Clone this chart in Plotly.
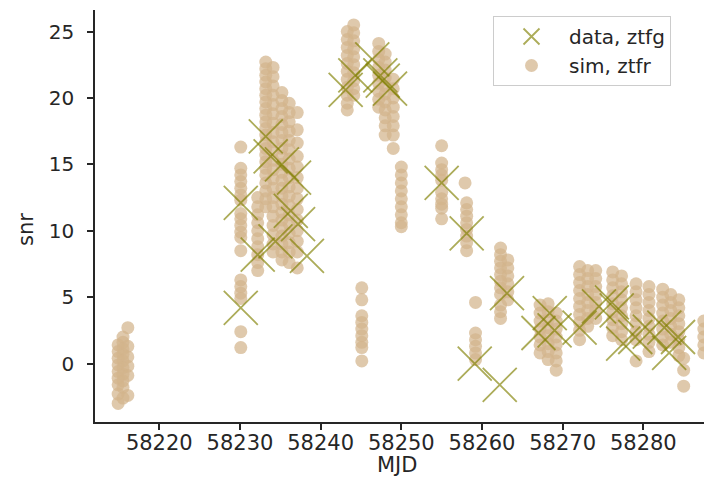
import plotly.graph_objects as go

# ---- data: observed points (green X) ----
data_mjd = [58230.1, 58230.1, 58232.2, 58233.2, 58233.8, 58234.4, 58235.2, 58236.3, 58236.7,
            58237.2, 58238.3,
            58243.1, 58244.3, 58246.4, 58247.4, 58247.7, 58248.6,
            58255.0, 58258.1, 58259.1, 58262.2, 58263.1,
            58267.0, 58268.4, 58269.0, 58272.1, 58274.5, 58276.1, 58276.7, 58277.5,
            58279.0, 58280.8, 58282.6, 58283.2, 58284.3]
data_snr = [12.1, 4.2, 8.2, 17.1, 15.6, 9.2, 15.0, 11.5, 14.0,
            10.5, 8.1,
            20.6, 21.7, 22.9, 21.7, 21.3, 20.7,
            13.6, 9.8, 0.0, -1.6, 5.3,
            2.3, 3.8, 2.5, 2.7, 4.3, 4.6, 4.0, 1.5,
            2.0, 2.4, 2.7, 0.8, 2.0]

# ---- simulated points (tan circles), one list of snr per epoch ----
sim_mjd = [58214.9, 58215.5, 58216.1,
           58230.1, 58232.2, 58233.2, 58234.1, 58235.2, 58236.1, 58237.1,
           58243.3, 58244.1, 58245.1, 58247.2, 58248.0, 58249.0, 58250.0,
           58255.0, 58257.9, 58258.1, 58259.2, 58262.3, 58263.2,
           58267.2, 58268.2, 58269.2, 58272.1, 58273.1, 58274.1,
           58276.2, 58277.3, 58279.1, 58280.7,
           58282.4, 58283.4, 58284.4, 58285.0, 58287.5]
sim_snr = [
    [1.4, 0.9, 0.4, -0.1, -0.6, -1.1, -1.6, -2.3, -3.0],
    [2.0, 1.6, 1.1, 0.7, 0.2, -0.3, -0.8, -1.3, -1.8, -2.6],
    [2.7, 1.3, 0.5, -0.2, -0.9, -2.4],
    [16.3, 14.7, 14.2, 13.7, 13.2, 12.7, 12.3, 11.3, 10.9, 10.4, 9.9, 9.5, 8.5, 6.3, 5.8, 5.3, 4.9, 2.4, 1.2],
    [12.5, 11.8, 11.2, 10.6, 10.0, 9.4, 8.8, 8.2, 7.6, 7.0],
    [22.7, 22.2, 21.7, 21.2, 20.7, 20.2, 19.7, 19.2, 18.7, 18.2, 17.7, 17.2, 16.7, 16.2, 15.7, 15.2,
     14.7, 14.2, 13.6, 13.0, 12.4, 11.8],
    [22.3, 21.6, 20.9, 20.2, 19.5, 18.8, 18.1, 17.4, 16.7, 16.0, 15.3, 14.6, 13.9, 13.2, 12.5, 11.8,
     11.1, 10.4, 9.7, 9.0, 8.4],
    [20.4, 19.8, 19.2, 18.6, 18.0, 17.4, 16.8, 16.2, 15.6, 15.0, 14.4, 13.8, 13.2, 12.6, 12.0, 11.4,
     10.8, 10.2, 9.6, 9.0, 8.4, 7.8],
    [19.6, 18.9, 18.2, 17.5, 16.8, 16.1, 15.4, 14.7, 14.0, 13.3, 12.6, 11.9, 11.2, 10.5, 9.8, 9.1, 8.4, 7.6],
    [18.9, 17.6, 16.6, 15.6, 14.8, 14.0, 13.2, 12.4, 11.6, 10.8, 10.0, 9.2, 8.4, 7.2],
    [25.0, 24.4, 23.8, 23.2, 22.6, 22.0, 21.4, 20.8, 20.2, 19.6, 19.1],
    [25.5, 24.9, 24.3, 23.7, 23.1, 22.5, 21.9, 21.3, 20.7, 20.2],
    [5.7, 4.8, 3.6, 3.1, 2.6, 2.1, 1.6, 1.2, 0.2],
    [24.1, 23.5, 22.9, 22.3, 21.7, 21.1, 20.5, 19.9, 19.3],
    [23.3, 22.7, 22.1, 21.5, 20.9, 20.3, 19.7, 19.1, 18.5, 17.9, 17.2],
    [21.4, 20.7, 20.0, 19.3, 18.6, 17.9, 17.2, 16.2],
    [14.8, 14.2, 13.6, 13.0, 12.4, 11.8, 11.2, 10.6, 10.3],
    [16.4, 15.1, 14.6, 14.2, 13.8, 12.9, 12.4, 12.0, 11.7, 10.9],
    [13.6],
    [12.1, 11.6, 11.1, 10.6, 10.1, 9.6, 9.1, 8.5],
    [4.6, 2.3, 1.8, 1.3, 0.8, 0.3],
    [8.7, 8.2, 7.7, 7.2, 6.7, 6.2, 5.7, 5.2, 4.4, 3.9, 3.4],
    [7.8, 7.2, 6.6, 6.0, 5.4, 4.8],
    [4.4, 3.8, 3.2, 2.6, 2.0, 1.4, 0.8],
    [4.5, 3.9, 3.3, 2.7, 2.1, 1.5, 0.9, 0.3],
    [3.8, 3.2, 2.6, 2.0, 1.4, 0.8, 0.2, -0.5],
    [7.3, 6.7, 6.1, 5.5, 4.9, 4.3, 3.7, 3.1, 2.5, 1.8],
    [7.0, 6.4, 5.8, 5.2, 4.6, 4.0, 3.4, 2.8],
    [7.0, 6.4, 5.8, 5.2, 4.6, 4.0, 3.4],
    [6.9, 6.3, 5.7, 5.1, 4.5, 3.9, 3.3, 2.7, 2.1],
    [6.6, 6.0, 5.4, 4.8, 4.2, 3.6, 3.0, 2.4, 1.8],
    [6.0, 5.4, 4.8, 4.2, 3.6, 3.0, 2.4, 1.8, 0.2],
    [5.8, 5.2, 4.6, 4.0, 3.4, 2.8, 2.2, 1.6, 0.9],
    [5.6, 5.0, 4.4, 3.8, 3.2, 2.6, 2.0, 1.4],
    [5.2, 4.6, 4.0, 3.4, 2.8, 2.2, 1.6],
    [4.8, 4.2, 3.6, 3.0, 2.4, 1.8, 1.2, 0.6],
    [0.4, -0.5, -1.7],
    [3.2, 2.6, 2.0, 1.4, 0.8],
]

x_ticks = [58220, 58230, 58240, 58250, 58260, 58270, 58280]
y_ticks = [0, 5, 10, 15, 20, 25]

sim_x = [m for m, col in zip(sim_mjd, sim_snr) for _ in col]
sim_y = [v for col in sim_snr for v in col]

FONT = "DejaVu Sans"
AXC = "#262626"

W, H = 704, 481
L, T, B = 95, 10, 59
PW, PH = W - L, H - T - B

fig = go.Figure()
fig.add_trace(go.Scatter(
    x=sim_x, y=sim_y, mode="markers", name="sim, ztfr", legendrank=2,
    marker=dict(symbol="circle", size=13, color="tan", opacity=0.72,
                line=dict(width=0)),
))
fig.add_trace(go.Scatter(
    x=data_mjd, y=data_snr, mode="markers", name="data, ztfg", legendrank=1,
    marker=dict(symbol="x-thin", size=34, color="olive", opacity=0.65,
                line=dict(width=1.8, color="olive")),
))

fig.update_layout(
    width=W, height=H,
    margin=dict(l=L, r=0, t=T, b=B, autoexpand=False),
    paper_bgcolor="white", plot_bgcolor="white",
    font=dict(family=FONT, size=20, color=AXC),
    showlegend=True,
    legend=dict(x=(493 - L) / PW, y=1 - (16 - T) / PH, xanchor="left", yanchor="top",
                bgcolor="rgba(255,255,255,0.8)", bordercolor="#cccccc", borderwidth=1,
                font=dict(family=FONT, size=20, color=AXC), itemwidth=65,
                tracegroupgap=0),
    xaxis=dict(range=[58212.03, 58287.52], tickvals=x_ticks,
               ticktext=[str(t) for t in x_ticks],
               showgrid=False, zeroline=False, showline=True, linecolor=AXC, linewidth=1.5,
               ticks="outside", ticklen=6, tickwidth=1.5, tickcolor=AXC,
               ticklabelstandoff=-5,
               tickfont=dict(family=FONT, size=21, color=AXC)),
    yaxis=dict(range=[-4.40, 26.62], tickvals=y_ticks,
               ticktext=[str(t) for t in y_ticks],
               showgrid=False, zeroline=False, showline=True, linecolor=AXC, linewidth=1.5,
               ticks="outside", ticklen=6, tickwidth=1.5, tickcolor=AXC,
               ticklabelstandoff=9,
               tickfont=dict(family=FONT, size=20, color=AXC)),
    annotations=[
        dict(text="MJD", xref="paper", yref="paper", x=(397 - L) / PW, y=-(465 - 422) / PH,
             showarrow=False, xanchor="center", yanchor="middle",
             font=dict(family=FONT, size=21, color=AXC)),
        dict(text="snr", xref="paper", yref="paper", x=-(L - 26) / PW, y=(422 - 230) / PH,
             showarrow=False, xanchor="center", yanchor="middle", textangle=-90,
             font=dict(family=FONT, size=21, color=AXC)),
    ],
)

fig.write_html(
    "out.html",
    config={"displayModeBar": False},
    post_script="document.body.style.margin='0';document.body.style.overflow='hidden';",
)
